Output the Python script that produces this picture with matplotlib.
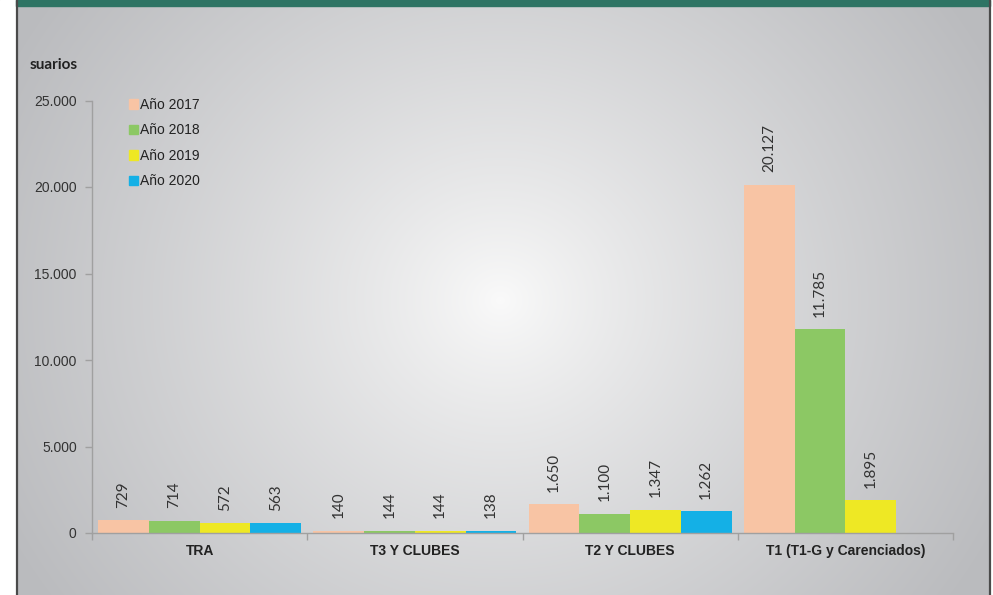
import numpy as np
import matplotlib
matplotlib.use("Agg")
import matplotlib.pyplot as plt
from matplotlib.patches import Rectangle
from matplotlib.lines import Line2D

categories = ["TRA", "T3 Y CLUBES", "T2 Y CLUBES", "T1 (T1-G y Carenciados)"]
series_names = ["Año 2017", "Año 2018", "Año 2019", "Año 2020"]
v2017 = [729, 140, 1650, 20127]
v2018 = [714, 144, 1100, 11785]
v2019 = [572, 144, 1347, 1895]
v2020 = [563, 138, 1262, np.nan]
colors = ["#f8c4a4", "#8cc864", "#eee824", "#14b0e6"]
yticks = [0, 5000, 10000, 15000, 20000, 25000]
ylabel_text = "suarios"

W, H = 993, 595
fig = plt.figure(figsize=(W / 100, H / 100), dpi=100)

# background panel with radial gradient
bg = fig.add_axes([0, 0, 1, 1], zorder=-10)
bg.set_xlim(0, W)
bg.set_ylim(H, 0)
bg.axis("off")
xx, yy = np.meshgrid(np.arange(W), np.arange(H))
d = np.sqrt(((xx - 500) / 560.0) ** 2 + ((yy - 300) / 520.0) ** 2)
t = np.clip(d, 0, 1) ** 0.85
c0 = np.array([250, 250, 250]) / 255.0
c1 = np.array([186, 187, 190]) / 255.0
img = c0[None, None, :] * (1 - t[..., None]) + c1[None, None, :] * t[..., None]
bg.imshow(img, extent=[0, W, H, 0], aspect="auto", interpolation="bilinear")
# white outside of panel
bg.add_patch(Rectangle((0, 0), 16, H, color="white", zorder=2))
bg.add_patch(Rectangle((990, 0), W - 990, H, color="white", zorder=2))
bg.add_patch(Rectangle((16, 0), 974, 6, color="#2e7464", zorder=3))
bg.add_line(Line2D([16.5, 16.5], [0, H], color="#4a4a4a", lw=1.6, zorder=4))
bg.add_line(Line2D([989.5, 989.5], [0, H], color="#4a4a4a", lw=1.6, zorder=4))

ax = fig.add_axes([92 / W, (H - 533) / H, (953 - 92) / W, (533 - 100.5) / H])
ax.patch.set_alpha(0)
x = np.arange(len(categories))
w = 0.2358
all_vals = [v2017, v2018, v2019, v2020]
for i, (vals, col) in enumerate(zip(all_vals, colors)):
    pos = x + (i - 1.5) * w
    ax.bar(pos, vals, width=w, color=col, edgecolor="none", label=series_names[i], zorder=2)
    for px, v in zip(pos, vals):
        if np.isnan(v):
            continue
        txt = f"{int(v):,}".replace(",", ".")
        ax.annotate(txt, (px, v), xytext=(0, 9), textcoords="offset points",
                    rotation=90, ha="center", va="bottom", fontsize=11,
                    family="Lato", color="#333333")

ax.set_xlim(-0.5, 3.5)
ax.set_ylim(0, 25000)
ax.set_yticks(yticks)
ax.set_yticklabels([f"{v:,}".replace(",", ".") if v else "0" for v in yticks],
                   family="Liberation Sans", fontsize=10, color="#333333")
ax.set_xticks(x)
ax.set_xticklabels(categories, family="Liberation Sans", fontsize=10,
                   fontweight="bold", color="#222222")
ax.set_xticks(np.arange(-0.5, 4, 1), minor=True)
ax.tick_params(axis="x", which="major", length=0, pad=8)
ax.tick_params(axis="x", which="minor", length=5, color="#a0a0a0", width=1)
ax.tick_params(axis="y", length=5, color="#a0a0a0", width=1, pad=6)
for s in ["top", "right"]:
    ax.spines[s].set_visible(False)
for s in ["left", "bottom"]:
    ax.spines[s].set_color("#a0a0a0")
    ax.spines[s].set_linewidth(1)

handles = [Rectangle((0, 0), 1, 1, color=c) for c in colors]
leg = fig.legend(handles, series_names, loc="upper left",
                 bbox_to_anchor=(129 / W, (H - 98) / H), frameon=False,
                 prop={"family": "Liberation Sans", "size": 10},
                 handlelength=0.65, handleheight=0.65, handletextpad=0.15,
                 labelspacing=0.82, borderpad=0, borderaxespad=0)
for tx in leg.get_texts():
    tx.set_color("#222222")

fig.text(30 / W, (H - 65) / H, ylabel_text, family="Lato", fontweight="bold",
         fontsize=11, color="#222222", va="center", ha="left")

fig.savefig("out.png", dpi=100)
